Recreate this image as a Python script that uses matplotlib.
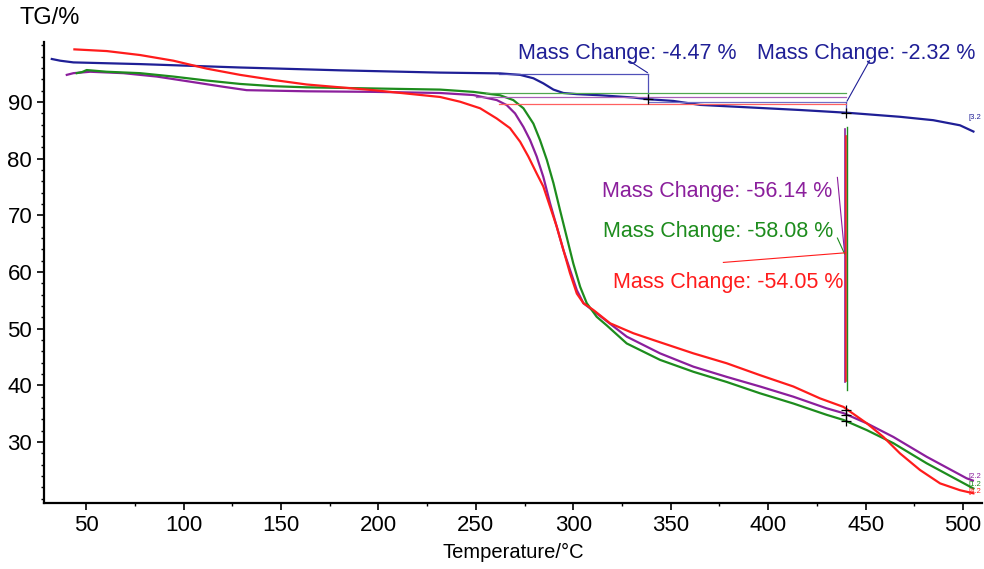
import matplotlib.pyplot as plt
from matplotlib.ticker import MultipleLocator

plt.rcParams['font.family'] = ['Liberation Sans', 'DejaVu Sans']

# TG curves (temperature in C, mass in %)
blue_t = [32.4, 36.7, 43.5, 77.7, 129, 180.3, 231.6, 262.4, 272.7, 279.5, 284.6, 289.8,
          294.9, 301.8, 313.7, 330.8, 338.5, 351.3, 365, 382.1, 399.2, 416.3, 441.1,
          467.6, 484.7, 498.4, 505.3]
blue_m = [97.6, 97.3, 97.0, 96.7, 96.1, 95.6, 95.2, 95.06, 94.8, 94.2, 93.3, 92.2,
          91.6, 91.4, 91.2, 90.8, 90.5, 90.2, 89.5, 89.2, 88.9, 88.6, 88.1,
          87.4, 86.8, 85.9, 84.8]

purple_t = [40.1, 43.5, 52.1, 69.1, 86.3, 103.4, 120.4, 132.4, 163.2, 197.4, 231.6, 248.7,
            260.7, 265.8, 270.1, 274.4, 277.8, 281.2, 284.6, 288.1, 291.5, 294.9, 298.3,
            301.8, 305.2, 312.0, 327.4, 344.5, 361.6, 378.7, 395.8, 412.9, 430, 438.6,
            450.6, 464.2, 481.3, 501.8, 505]
purple_m = [94.8, 95.1, 95.35, 95.1, 94.5, 93.6, 92.7, 92.1, 91.9, 91.8, 91.6, 91.24,
            90.35, 89.47, 88.0, 85.6, 83.3, 80.4, 76.8, 72.1, 68.0, 63.9, 60.4,
            56.8, 54.5, 52.7, 48.6, 45.65, 43.3, 41.5, 39.8, 38.0, 35.95, 35.1,
            33.3, 30.9, 27.4, 23.6, 23.2]

green_t = [45.2, 48, 50.3, 60.6, 77.7, 94.8, 111.9, 129, 146.1, 163.2, 197.4, 231.6, 248.7,
           262.4, 269.2, 274.4, 279.5, 282.9, 286.4, 289.8, 293.2, 296.6, 300.0, 303.5,
           306.9, 312.0, 317.1, 327.4, 344.5, 361.6, 378.7, 395.8, 412.9, 430, 438.6,
           450.6, 464.2, 481.3, 505.3]
green_m = [95.1, 95.3, 95.65, 95.35, 95.1, 94.5, 93.8, 93.2, 92.8, 92.6, 92.4, 92.2, 91.8,
           91.2, 90.35, 88.9, 86.2, 83.3, 79.8, 75.7, 70.9, 66.2, 61.5, 57.4,
           54.5, 52.1, 50.6, 47.4, 44.5, 42.4, 40.6, 38.6, 36.8, 34.8, 33.9,
           32.1, 29.8, 26.25, 21.8]

red_t = [44.0, 60.6, 77.7, 94.8, 111.9, 129, 146.1, 163.2, 180.3, 197.4, 214.5, 231.6,
         241.9, 252.2, 260.7, 267.5, 272.7, 276.9, 281.2, 284.6, 288.1, 291.5, 294.9,
         298.3, 301.8, 305.2, 310.3, 318.9, 330.8, 341.1, 361.6, 378.7, 395.8, 412.9,
         426.6, 438.6, 450.6, 459.1, 467.6, 477.9, 488.2, 498.4, 505.3]
red_m = [99.3, 99.0, 98.3, 97.3, 95.9, 94.8, 93.9, 93.1, 92.6, 92.1, 91.5, 90.9,
         90.06, 88.9, 87.1, 85.4, 83.0, 80.4, 77.4, 75.1, 71.5, 68.0, 63.9,
         59.8, 56.2, 54.5, 53.3, 50.95, 49.2, 48.0, 45.65, 43.9, 41.8, 39.8,
         37.7, 36.2, 33.3, 30.9, 28.0, 25.06, 22.7, 21.5, 20.95]

# mass change annotations
step_labels = ['Mass Change: -4.47 %', 'Mass Change: -2.32 %', 'Mass Change: -56.14 %',
               'Mass Change: -58.08 %', 'Mass Change: -54.05 %']

BLUE = '#1f1f96'
PURPLE = '#8b1f9c'
GREEN = '#1d8c1d'
RED = '#ff1c1c'

fig = plt.figure(figsize=(9.84, 5.69), dpi=100)
ax = fig.add_axes([44 / 984, 66 / 569, 938 / 984, 461 / 569])

ax.plot(blue_t, blue_m, color=BLUE, lw=1.6)
ax.plot(purple_t, purple_m, color=PURPLE, lw=1.6)
ax.plot(green_t, green_m, color=GREEN, lw=1.6)
ax.plot(red_t, red_m, color=RED, lw=1.6)

# baselines of the step evaluation
ax.plot([262, 338.4], [94.9, 94.9], color='#5050b8', lw=0.9)
ax.plot([338.4, 338.4], [94.9, 90.5], color='#5050b8', lw=0.9)
ax.plot([338.4, 440], [90.05, 90.05], color='#7070c8', lw=0.9)
ax.plot([440, 440], [90.05, 88.1], color='#5050b8', lw=0.9)
ax.plot([255, 440], [91.6, 91.6], color='#50a850', lw=0.9)
ax.plot([250, 440], [90.9, 90.9], color='#a860b8', lw=0.9)
ax.plot([262, 440], [89.6, 89.6], color='#ff6060', lw=0.9)

# vertical step markers
ax.plot([439.2, 439.2], [85.2, 40.6], color=PURPLE, lw=1.2)
ax.plot([439.7, 439.7], [84.0, 40.8], color=RED, lw=1.2)
ax.plot([440.2, 440.2], [85.6, 39.2], color=GREEN, lw=1.0)

# crosshair points
for t, m in [(338.4, 90.5), (440, 88.1), (440, 35.6), (440, 34.8), (440, 33.8)]:
    ax.plot(t, m, marker='+', color='black', ms=7, mew=0.9)

# leader lines
ax.plot([329, 338], [97.2, 95.2], color=BLUE, lw=0.8)
ax.plot([452, 440.5], [97.3, 90.2], color=BLUE, lw=0.8)
ax.plot([435.5, 439.2], [76.7, 63.3], color=PURPLE, lw=0.8)
ax.plot([435.5, 439.2], [66.0, 63.2], color=GREEN, lw=0.8)
ax.plot([377, 439.7], [61.7, 63.4], color=RED, lw=0.8)

fs = 15.5
ax.text(327.6, 98.6, step_labels[0], color=BLUE, fontsize=fs, ha='center', va='center')
ax.text(450.2, 98.6, step_labels[1], color=BLUE, fontsize=fs, ha='center', va='center',
        clip_on=False)
ax.text(373.8, 74.3, step_labels[2], color=PURPLE, fontsize=fs, ha='center', va='center')
ax.text(374.3, 67.2, step_labels[3], color=GREEN, fontsize=fs, ha='center', va='center')
ax.text(379.4, 58.2, step_labels[4], color=RED, fontsize=fs, ha='center', va='center')

# curve end tags
ax.text(503, 87.0, '[3.2', color=BLUE, fontsize=5.5)
ax.text(503, 23.6, '[2.2', color=PURPLE, fontsize=5.5)
ax.text(503, 22.2, '[1.2', color=GREEN, fontsize=5.5)
ax.text(503, 21.0, '[4.2', color=RED, fontsize=5.5)

ax.set_xlim(28.4, 509.7)
ax.set_ylim(19.24, 100.6)
ax.xaxis.set_major_locator(MultipleLocator(50))
ax.xaxis.set_minor_locator(MultipleLocator(25))
ax.yaxis.set_minor_locator(MultipleLocator(2))
ax.set_yticks([30, 40, 50, 60, 70, 80, 90])

for side in ['top', 'right']:
    ax.spines[side].set_visible(False)
for side in ['left', 'bottom']:
    ax.spines[side].set_linewidth(1.6)
ax.tick_params(which='major', length=5, width=1.2, labelsize=16, direction='out')
ax.tick_params(which='minor', length=2.5, width=1.0, direction='out')

fig.text(20 / 984, 1 - 18 / 569, 'TG/%', fontsize=17, ha='left', va='center')
fig.text(513 / 984, 1 - 552 / 569, 'Temperature/°C', fontsize=14.5, ha='center', va='center')

fig.savefig('out.png', dpi=100)
